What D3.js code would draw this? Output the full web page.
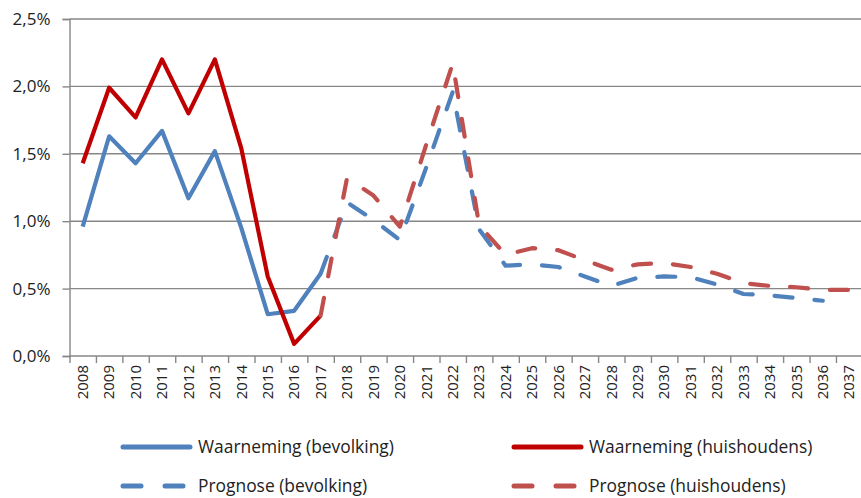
<!DOCTYPE html>
<html>
<head>
<meta charset="utf-8">
<script src="https://cdn.jsdelivr.net/npm/d3@7"></script>
<style>
  body { margin: 0; background: #fff; }
  svg { display: block; font-family: "Open Sans", "Noto Sans", sans-serif; }
</style>
</head>
<body>
<svg></svg>
<script>
// jaren (categorieen)
const years = ['2008', '2009', '2010', '2011', '2012', '2013', '2014', '2015', '2016', '2017',
    '2018', '2019', '2020', '2021', '2022', '2023', '2024', '2025', '2026', '2027',
    '2028', '2029', '2030', '2031', '2032', '2033', '2034', '2035', '2036', '2037'];

// waarneming 2008 - 2017 (%)
const obsYears = ['2008', '2009', '2010', '2011', '2012', '2013', '2014', '2015', '2016', '2017'];
const obsBevolking = [0.96, 1.63, 1.43, 1.67, 1.17, 1.52, 0.95, 0.31, 0.335, 0.61];
const obsHuishoudens = [1.43, 1.99, 1.77, 2.20, 1.80, 2.20, 1.54, 0.59, 0.09, 0.30];

// prognose 2017 - 2037 (%)
const progYears = ['2017', '2018', '2019', '2020', '2021', '2022', '2023', '2024', '2025', '2026', '2027',
    '2028', '2029', '2030', '2031', '2032', '2033', '2034', '2035', '2036', '2037'];
const progBevolking = [0.61, 1.14, 1.01, 0.86, 1.40, 1.96, 0.94, 0.67, 0.68, 0.66, 0.59,
    0.52, 0.58, 0.59, 0.585, 0.53, 0.46, 0.45, 0.43, 0.41, null];
const progHuishoudens = [0.30, 1.32, 1.19, 0.96, 1.57, 2.17, 0.97, 0.75, 0.80, 0.785, 0.71,
    0.64, 0.68, 0.69, 0.66, 0.61, 0.54, 0.52, 0.51, 0.49, 0.49];

const yTicks = [0, 0.5, 1.0, 1.5, 2.0, 2.5];

const series = [
    { name: 'Waarneming (bevolking)', x: obsYears, values: obsBevolking, color: '#4f81bd', dash: null },
    { name: 'Waarneming (huishoudens)', x: obsYears, values: obsHuishoudens, color: '#c00000', dash: null },
    { name: 'Prognose (bevolking)', x: progYears, values: progBevolking, color: '#4f81bd', dash: '18,22' },
    { name: 'Prognose (huishoudens)', x: progYears, values: progHuishoudens, color: '#c0504d', dash: '18,22' }
];

function drawChart() {
    const width = 861;
    const height = 498;
    const left = 69.5, right = 862.4, top = 19, bottom = 356;
    const gridColor = '#878787';

    const svg = d3.select('svg')
        .attr('width', width)
        .attr('height', height);

    const xScale = d3.scaleBand()
        .domain(years)
        .range([left, right])
        .padding(0);
    const xc = (d) => xScale(d) + xScale.bandwidth() / 2;

    const yScale = d3.scaleLinear()
        .domain([0, 2.5])
        .range([bottom, top]);

    // horizontale rasterlijnen
    svg.append('g')
        .selectAll('line')
        .data(yTicks)
        .enter()
        .append('line')
        .attr('x1', left)
        .attr('x2', width)
        .attr('y1', (d) => yScale(d))
        .attr('y2', (d) => yScale(d))
        .attr('stroke', gridColor)
        .attr('stroke-width', 1.4);

    // y-as
    const yAxis = svg.append('g')
        .attr('transform', `translate(${left}, 0)`)
        .call(d3.axisLeft(yScale)
            .tickValues(yTicks)
            .tickSize(7)
            .tickPadding(12)
            .tickFormat((d) => d3.format('.1f')(d).replace('.', ',') + '%'));
    yAxis.select('.domain').attr('stroke', gridColor).attr('stroke-width', 1.4);
    yAxis.selectAll('.tick line').attr('stroke', gridColor).attr('stroke-width', 1.4);
    yAxis.selectAll('text')
        .attr('fill', '#222')
        .style('font-size', '17px')
        .style('font-family', '"Open Sans", sans-serif');

    // x-as: streepjes op de grenzen van de categorieen
    const tickScale = d3.scaleLinear()
        .domain([0, years.length])
        .range([left, right]);
    const xTickAxis = svg.append('g')
        .attr('transform', `translate(0, ${bottom})`)
        .call(d3.axisBottom(tickScale)
            .tickValues(d3.range(0, years.length + 1))
            .tickSize(7)
            .tickFormat(''));
    xTickAxis.select('.domain').remove();
    xTickAxis.selectAll('.tick line').attr('stroke', gridColor).attr('stroke-width', 1.4);

    const xAxis = svg.append('g')
        .attr('transform', `translate(0, ${bottom})`)
        .call(d3.axisBottom(xScale).tickSize(0));
    xAxis.select('.domain').remove();
    xAxis.selectAll('text')
        .attr('fill', '#222')
        .style('font-size', '15px')
        .style('font-family', '"Open Sans", sans-serif')
        .style('text-anchor', 'end')
        .attr('dx', '-9px')
        .attr('dy', '0.35em')
        .attr('y', 0)
        .attr('x', 0)
        .attr('transform', 'rotate(-90)');

    // lijnen
    const line = d3.line()
        .defined((d) => d.v != null)
        .x((d) => xc(d.x))
        .y((d) => yScale(d.v));

    series.forEach((s) => {
        const pts = s.x.map((x, i) => ({ x: x, v: s.values[i] }));
        svg.append('path')
            .datum(pts)
            .attr('d', line)
            .attr('fill', 'none')
            .attr('stroke', s.color)
            .attr('stroke-width', 4.2)
            .attr('stroke-linejoin', 'round')
            .attr('stroke-linecap', s.dash ? 'round' : 'butt')
            .attr('stroke-dasharray', s.dash);
    });

    // legenda
    const legendPos = [
        { x: 121, y: 447 },
        { x: 512, y: 447 },
        { x: 121, y: 486 },
        { x: 512, y: 486 }
    ];
    series.forEach((s, i) => {
        const p = legendPos[i];
        const g = svg.append('g').attr('transform', `translate(${p.x}, ${p.y})`);
        if (s.dash) {
            [[2, 20], [44, 62]].forEach((seg) => {
                g.append('line')
                    .attr('x1', seg[0]).attr('x2', seg[1])
                    .attr('y1', 0).attr('y2', 0)
                    .attr('stroke', s.color)
                    .attr('stroke-width', 5)
                    .attr('stroke-linecap', 'round');
            });
        } else {
            g.append('line')
                .attr('x1', 2).attr('x2', 69)
                .attr('y1', 0).attr('y2', 0)
                .attr('stroke', s.color)
                .attr('stroke-width', 5)
                .attr('stroke-linecap', 'round');
        }
        g.append('text')
            .attr('x', 77)
            .attr('y', 6)
            .attr('fill', '#222')
            .style('font-size', '17.4px')
            .text(s.name);
    });
}

drawChart();
</script>
</body>
</html>
